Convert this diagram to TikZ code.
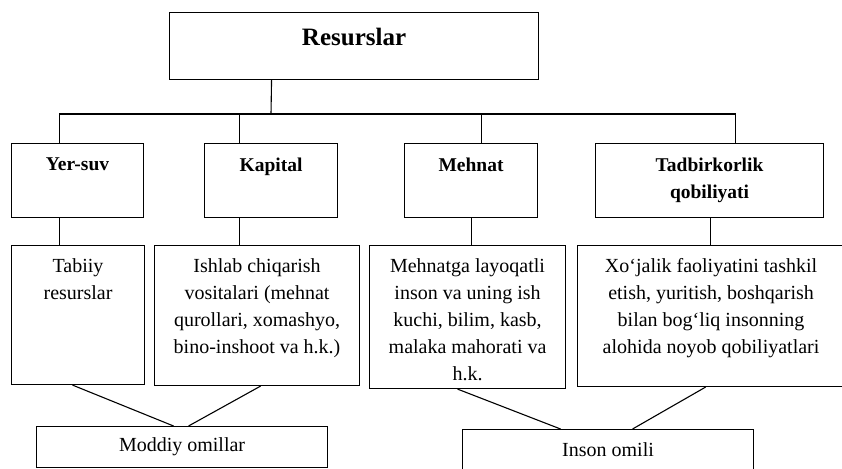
\documentclass[tikz,border=0pt]{standalone}
\usepackage{fontspec}
\setmainfont{Liberation Serif}
\usetikzlibrary{positioning}

\begin{document}
\begin{tikzpicture}[x=1pt, y=-1pt, line width=1.1pt,
      box/.style={draw, rectangle, inner sep=0pt, anchor=north west},
      txt/.style={inner sep=0pt, align=center, font=\fontsize{20}{27}\selectfont},
      hdr/.style={inner sep=0pt, align=center, font=\fontsize{19.5}{27}\selectfont\bfseries}]
    \clip (0,0) rectangle (842,468);
    % boxes
    \node[box, minimum width=369pt, minimum height=67pt] (res) at (169,12) {};
    \node[box, minimum width=132pt, minimum height=74pt] (yersuv) at (11,143) {};
    \node[box, minimum width=133pt, minimum height=74pt] (kapital) at (204,143) {};
    \node[box, minimum width=133pt, minimum height=74pt] (mehnat) at (404,143) {};
    \node[box, minimum width=228pt, minimum height=74pt] (tadb) at (595,143) {};
    \node[box, minimum width=133pt, minimum height=139pt] (tabiiy) at (11,245) {};
    \node[box, minimum width=205pt, minimum height=140pt] (ishlab) at (154,245) {};
    \node[box, minimum width=196pt, minimum height=143pt] (mehnatga) at (369,245) {};
    \node[box, minimum width=267pt, minimum height=141pt] (xojalik) at (577,245) {};
    \node[box, minimum width=291pt, minimum height=41pt] (moddiy) at (36,426) {};
    \node[box, minimum width=291pt, minimum height=40pt] (inson) at (462,429) {};
    % texts
    \node[hdr, font=\fontsize{25}{30}\selectfont\bfseries, below=16pt of res.north] {Resurslar};
    \node[hdr, below=14pt of yersuv.north] {Yer-suv};
    \node[hdr, below=14pt of kapital.north] {Kapital};
    \node[hdr, below=14pt of mehnat.north] {Mehnat};
    \node[hdr, below=14pt of tadb.north] {Tadbirkorlik\\qobiliyati};
    \node[txt, below=13pt of tabiiy.north] {Tabiiy\\resurslar};
    \node[txt, below=13pt of ishlab.north] {Ishlab chiqarish\\vositalari (mehnat\\qurollari, xomashyo,\\bino-inshoot va h.k.)};
    \node[txt, below=13pt of mehnatga.north] {Mehnatga layoqatli\\inson va uning ish\\kuchi, bilim, kasb,\\malaka mahorati va\\h.k.};
    \node[txt, below=13pt of xojalik.north] {Xo‘jalik faoliyatini tashkil\\etish, yuritish, boshqarish\\bilan bog‘liq insonning\\alohida noyob qobiliyatlari};
    \node[txt] at (moddiy.center) {Moddiy omillar};
    \node[txt] at (inson.center) {Inson omili};
    % tree
    \coordinate (hub) at (271,114);
    \draw ([xshift=-82.5pt]res.south) -- (hub);
    \draw ([xshift=-18pt]yersuv.north) |- (hub) -| ([xshift=26pt]tadb.north);
    \draw ([xshift=-31.5pt]kapital.north) -- ([xshift=-31.5pt]kapital.north |- hub);
    \draw ([xshift=10.5pt]mehnat.north) -- ([xshift=10.5pt]mehnat.north |- hub);
    \draw ([xshift=-18pt]yersuv.south) -- ([xshift=-18pt]yersuv.south |- tabiiy.north);
    \draw ([xshift=-31.5pt]kapital.south) -- ([xshift=-31.5pt]kapital.south |- ishlab.north);
    \draw (mehnat.south) -- (mehnat.south |- mehnatga.north);
    \draw ([xshift=1pt]tadb.south) -- ([xshift=1pt]tadb.south |- xojalik.north);
    % groups
    \draw ([xshift=-5.5pt]tabiiy.south) -- ([xshift=-8.5pt]moddiy.north);
    \draw ([xshift=3.5pt]ishlab.south) -- ([xshift=6.5pt]moddiy.north);
    \draw ([xshift=-10pt]mehnatga.south) -- ([xshift=-47.5pt]inson.north);
    \draw ([xshift=-5.5pt]xojalik.south) -- ([xshift=24.5pt]inson.north);
\end{tikzpicture}
\end{document}
